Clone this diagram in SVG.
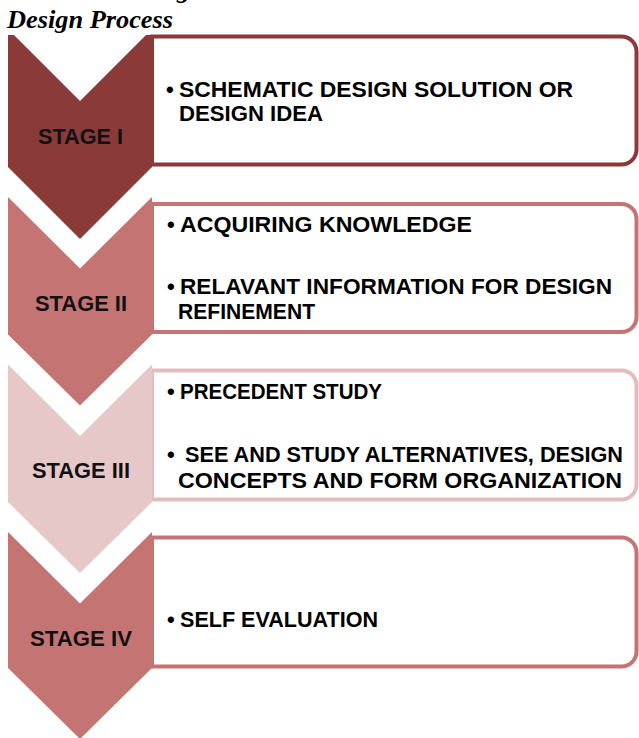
<svg xmlns="http://www.w3.org/2000/svg" width="639" height="738" viewBox="0 0 639 738">
<style>
.lbl{font-family:"Liberation Sans",Arial,sans-serif;font-weight:bold;font-size:22px;fill:#000}
.stg{font-family:"Liberation Sans",Arial,sans-serif;font-weight:bold;font-size:22px;fill:#111;text-anchor:middle}
.box{fill:#fff;stroke-width:4}
.title{font-family:"Liberation Serif","Times New Roman",serif;font-weight:bold;font-style:italic;font-size:26px;fill:#000}
.c1{fill:#8B3A3A}.s1{stroke:#8B3A3A}
.c2{fill:#C47472}.s2{stroke:#C47472}
.c3{fill:#E6C8C8}.s3{stroke:#E3BDBD}
</style>
<rect width="639" height="738" fill="#fff"/>
<text class="title" x="177" y="-2" font-style="normal" font-weight="normal" font-size="24">g</text>
<text class="title" x="7" y="28" textLength="166" lengthAdjust="spacingAndGlyphs">Design Process</text>

<g id="connectors"/>

<g id="stage1">
<path class="box s1" d="M152,36.5 H621.5 A15,15 0 0 1 636.5,51.5 V149.5 A15,15 0 0 1 621.5,164.5 H152 Z"/>
<polygon class="c1" points="8,35 14,35 80,101 146,35 152,35 152,167 80,239 8,167"/>
<text class="stg" x="80.5" y="144" textLength="85" lengthAdjust="spacingAndGlyphs">STAGE I</text>
<text class="lbl" x="166" y="97">•<tspan x="179" textLength="394" lengthAdjust="spacingAndGlyphs">SCHEMATIC DESIGN SOLUTION  OR</tspan></text>
<text class="lbl" x="179" y="121" textLength="144" lengthAdjust="spacingAndGlyphs">DESIGN IDEA</text>
</g>

<g id="stage2">
<path class="box s2" d="M152,204 H621.5 A15,15 0 0 1 636.5,219 V317 A15,15 0 0 1 621.5,332 H152 Z"/>
<polygon class="c2" points="8,197 80,268.5 152,197 152,334.5 80,405.5 8,334.5"/>
<text class="stg" x="81" y="311" textLength="92" lengthAdjust="spacingAndGlyphs">STAGE II</text>
<text class="lbl" x="167" y="232">•<tspan x="180" textLength="292" lengthAdjust="spacingAndGlyphs">ACQUIRING KNOWLEDGE</tspan></text>
<text class="lbl" x="167" y="294">•<tspan x="180" textLength="432" lengthAdjust="spacingAndGlyphs">RELAVANT INFORMATION FOR DESIGN</tspan></text>
<text class="lbl" x="178" y="319" textLength="137" lengthAdjust="spacingAndGlyphs">REFINEMENT</text>
</g>

<g id="stage3">
<path class="box s3" d="M152,370.5 H621.5 A15,15 0 0 1 636.5,385.5 V484.5 A15,15 0 0 1 621.5,499.5 H152 Z"/>
<polygon class="c3" points="8,364.5 80,436 152,364.5 152,502 80,573 8,502"/>
<text class="stg" x="81" y="478" textLength="98" lengthAdjust="spacingAndGlyphs">STAGE III</text>
<text class="lbl" x="167" y="399">•<tspan x="180" textLength="202" lengthAdjust="spacingAndGlyphs">PRECEDENT STUDY</tspan></text>
<text class="lbl" x="167" y="462">• <tspan x="185" textLength="438" lengthAdjust="spacingAndGlyphs">SEE AND STUDY ALTERNATIVES, DESIGN</tspan></text>
<text class="lbl" x="178" y="488" textLength="444" lengthAdjust="spacingAndGlyphs">CONCEPTS AND FORM ORGANIZATION</text>
</g>

<g id="stage4">
<path class="box s2" d="M152,537.5 H621.5 A15,15 0 0 1 636.5,552.5 V651.5 A15,15 0 0 1 621.5,666.5 H152 Z"/>
<polygon class="c2" points="8,532 80,603.5 152,532 152,668 80,739 8,668"/>
<text class="stg" x="81" y="646" textLength="102" lengthAdjust="spacingAndGlyphs">STAGE IV</text>
<text class="lbl" x="167" y="627">•<tspan x="180" textLength="198" lengthAdjust="spacingAndGlyphs">SELF EVALUATION</tspan></text>
</g>
</svg>
